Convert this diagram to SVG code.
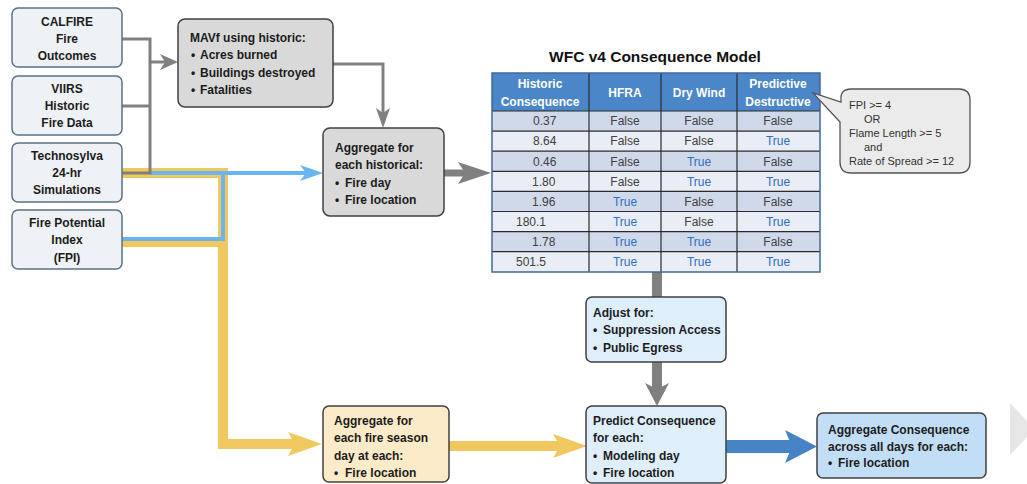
<svg xmlns="http://www.w3.org/2000/svg" width="1027" height="484" viewBox="0 0 1027 484">
<style>
.t{font-family:"Liberation Sans",Arial,sans-serif;font-size:12px;font-weight:bold;fill:#1c1c1c}
.c{text-anchor:middle}
.src{fill:#eef1f5;stroke:#5b7189;stroke-width:1.5}
.gry{fill:#d9d9d9;stroke:#404040;stroke-width:1.5}
.yel{fill:#fcebc8;stroke:#404040;stroke-width:1.5}
.lb{fill:#deeefb;stroke:#404040;stroke-width:1.5}
.mb{fill:#c2def6;stroke:#404040;stroke-width:1.5}
.cell{font-family:"Liberation Sans",Arial,sans-serif;font-size:12px;fill:#404040}
.tr{fill:#2f6fc0}
.hd{font-family:"Liberation Sans",Arial,sans-serif;font-size:12px;font-weight:bold;fill:#ffffff;text-anchor:middle}
.call{font-family:"Liberation Sans",Arial,sans-serif;font-size:11px;fill:#333333}
.r0{fill:#d0d9ea}
.r1{fill:#e9edf5}
.grid{stroke:#2b2b2b;stroke-width:1.2}
</style>

<g id="connectors" fill="none">
  <!-- yellow -->
  <path d="M122,173 H223 V444 H296" stroke="#f1c75f" stroke-width="10"/>
  <path d="M122,242 H223" stroke="#f1c75f" stroke-width="10"/>
  <polygon points="322,444 288,432 295,444 288,456" fill="#f1c75f"/>
  <path d="M449,446 H560" stroke="#f1c75f" stroke-width="10"/>
  <polygon points="587,446 553,434 560,446 553,458" fill="#f1c75f"/>
  <!-- light blue -->
  <path d="M122,239 H223 V173 H308" stroke="#6ab4f0" stroke-width="4"/>
  <path d="M150,173 H223" stroke="#6ab4f0" stroke-width="4"/>
  <polygon points="323,173 300,165 306,173 300,181" fill="#6ab4f0"/>
  <!-- grey thin -->
  <path d="M122,39 H150 V173 H122" stroke="#808080" stroke-width="3"/>
  <path d="M122,106 H150" stroke="#808080" stroke-width="3"/>
  <path d="M150,62 H166" stroke="#808080" stroke-width="3"/>
  <polygon points="178,62 160,54 165,62 160,70" fill="#808080"/>
  <path d="M333,64 H383 V113" stroke="#808080" stroke-width="3"/>
  <polygon points="383,128 376,108 383,113 390,108" fill="#808080"/>
  <!-- grey thick -->
  <path d="M444,173 H466" stroke="#808080" stroke-width="7"/>
  <polygon points="491,173 458,162 465,173 458,184" fill="#808080"/>
  <path d="M657,272 V297" stroke="#808080" stroke-width="10"/>
  <path d="M657,362 V390" stroke="#808080" stroke-width="10"/>
  <polygon points="657,406 645,383 657,389 669,383" fill="#808080"/>
  <!-- dark blue -->
  <path d="M726,446.5 H793" stroke="#4583c4" stroke-width="13"/>
  <polygon points="817,446.5 785,430 792,446.5 785,463" fill="#4583c4"/>
</g>

<g id="calfire">
  <rect class="src" x="12" y="8" width="110" height="59" rx="6"/>
  <text class="t c" x="67" y="26">CALFIRE</text>
  <text class="t c" x="67" y="43">Fire</text>
  <text class="t c" x="67" y="60">Outcomes</text>
</g>
<g id="viirs">
  <rect class="src" x="12" y="76" width="110" height="59" rx="6"/>
  <text class="t c" x="67" y="93">VIIRS</text>
  <text class="t c" x="67" y="110">Historic</text>
  <text class="t c" x="67" y="127">Fire Data</text>
</g>
<g id="technosylva">
  <rect class="src" x="12" y="143" width="110" height="59" rx="6"/>
  <text class="t c" x="67" y="160">Technosylva</text>
  <text class="t c" x="67" y="177">24-hr</text>
  <text class="t c" x="67" y="194">Simulations</text>
</g>
<g id="fpi">
  <rect class="src" x="12" y="210" width="110" height="59" rx="6"/>
  <text class="t c" x="67" y="227">Fire Potential</text>
  <text class="t c" x="67" y="244">Index</text>
  <text class="t c" x="67" y="262">(FPI)</text>
</g>

<g id="mavf">
  <rect class="gry" x="178" y="19" width="155" height="88" rx="7"/>
  <text class="t" x="190" y="42">MAVf using historic:</text>
  <text class="t" x="191" y="59">•</text><text class="t" x="200" y="59">Acres burned</text>
  <text class="t" x="191" y="77">•</text><text class="t" x="200" y="77">Buildings destroyed</text>
  <text class="t" x="191" y="94">•</text><text class="t" x="200" y="94">Fatalities</text>
</g>

<g id="agg-historical">
  <rect class="gry" x="323" y="128" width="121" height="88" rx="7"/>
  <text class="t" x="335" y="152">Aggregate for</text>
  <text class="t" x="335" y="169">each historical:</text>
  <text class="t" x="335" y="187">•</text><text class="t" x="345" y="187">Fire day</text>
  <text class="t" x="335" y="204">•</text><text class="t" x="345" y="204">Fire location</text>
</g>

<g id="model-table">
  <text x="655" y="62" text-anchor="middle" style="font-family:'Liberation Sans',Arial,sans-serif;font-size:15.5px;font-weight:bold;fill:#111">WFC v4 Consequence Model</text>
  <rect x="492" y="73" width="328" height="38" fill="#4a86c8"/>
  <rect class="r0" x="492" y="111" width="328" height="20.1"/>
  <rect class="r1" x="492" y="131.1" width="328" height="20.1"/>
  <rect class="r0" x="492" y="151.2" width="328" height="20.1"/>
  <rect class="r1" x="492" y="171.3" width="328" height="20.1"/>
  <rect class="r0" x="492" y="191.4" width="328" height="20.1"/>
  <rect class="r1" x="492" y="211.5" width="328" height="20.1"/>
  <rect class="r0" x="492" y="231.6" width="328" height="20.1"/>
  <rect class="r1" x="492" y="251.7" width="328" height="20.3"/>
  <g class="grid">
    <line x1="492" y1="111" x2="820" y2="111"/>
    <line x1="492" y1="131.1" x2="820" y2="131.1"/>
    <line x1="492" y1="151.2" x2="820" y2="151.2"/>
    <line x1="492" y1="171.3" x2="820" y2="171.3"/>
    <line x1="492" y1="191.4" x2="820" y2="191.4"/>
    <line x1="492" y1="211.5" x2="820" y2="211.5"/>
    <line x1="492" y1="231.6" x2="820" y2="231.6"/>
    <line x1="492" y1="251.7" x2="820" y2="251.7"/>
    <line x1="589" y1="73" x2="589" y2="272"/>
    <line x1="661" y1="73" x2="661" y2="272"/>
    <line x1="737" y1="73" x2="737" y2="272"/>
  </g>
  <rect x="492" y="73" width="328" height="199" fill="none" stroke="#41699c" stroke-width="1.5"/>
  <text class="hd" x="540" y="88">Historic</text>
  <text class="hd" x="540" y="106">Consequence</text>
  <text class="hd" x="625" y="97">HFRA</text>
  <text class="hd" x="699" y="97">Dry Wind</text>
  <text class="hd" x="778" y="88">Predictive</text>
  <text class="hd" x="778" y="106">Destructive</text>

  <text class="cell" x="533" y="125">0.37</text>
  <text class="cell" x="533" y="145">8.64</text>
  <text class="cell" x="533" y="165.5">0.46</text>
  <text class="cell" x="532" y="185.5">1.80</text>
  <text class="cell" x="532" y="205.5">1.96</text>
  <text class="cell" x="516" y="226">180.1</text>
  <text class="cell" x="532" y="246">1.78</text>
  <text class="cell" x="516" y="266">501.5</text>

  <g text-anchor="middle">
    <text class="cell" x="625" y="125">False</text>
    <text class="cell" x="625" y="145">False</text>
    <text class="cell" x="625" y="165.5">False</text>
    <text class="cell" x="625" y="185.5">False</text>
    <text class="cell tr" x="625" y="205.5">True</text>
    <text class="cell tr" x="625" y="226">True</text>
    <text class="cell tr" x="625" y="246">True</text>
    <text class="cell tr" x="625" y="266">True</text>

    <text class="cell" x="699" y="125">False</text>
    <text class="cell" x="699" y="145">False</text>
    <text class="cell tr" x="699" y="165.5">True</text>
    <text class="cell tr" x="699" y="185.5">True</text>
    <text class="cell" x="699" y="205.5">False</text>
    <text class="cell" x="699" y="226">False</text>
    <text class="cell tr" x="699" y="246">True</text>
    <text class="cell tr" x="699" y="266">True</text>

    <text class="cell" x="778" y="125">False</text>
    <text class="cell tr" x="778" y="145">True</text>
    <text class="cell" x="778" y="165.5">False</text>
    <text class="cell tr" x="778" y="185.5">True</text>
    <text class="cell" x="778" y="205.5">False</text>
    <text class="cell tr" x="778" y="226">True</text>
    <text class="cell" x="778" y="246">False</text>
    <text class="cell tr" x="778" y="266">True</text>
  </g>
</g>

<g id="callout">
  <path d="M851,89 H959 Q970,89 970,100 V162 Q970,173 959,173 H851 Q840,173 840,162 V122 L813,93 L841,102 V100 Q840,89 851,89 Z" fill="#ebebeb" stroke="#555555" stroke-width="1.3"/>
  <text class="call" x="849" y="109">FPI &gt;= 4</text>
  <text class="call" x="864" y="123">OR</text>
  <text class="call" x="849" y="137">Flame Length &gt;= 5</text>
  <text class="call" x="864" y="151">and</text>
  <text class="call" x="849" y="165">Rate of Spread &gt;= 12</text>
</g>

<g id="adjust">
  <rect class="lb" x="586" y="297" width="140" height="65" rx="6"/>
  <text class="t" x="593" y="317">Adjust for:</text>
  <text class="t" x="593" y="334">•</text><text class="t" x="603" y="334">Suppression Access</text>
  <text class="t" x="593" y="352">•</text><text class="t" x="603" y="352">Public Egress</text>
</g>

<g id="agg-season">
  <rect class="yel" x="323" y="406" width="126" height="76" rx="6"/>
  <text class="t" x="334" y="425">Aggregate for</text>
  <text class="t" x="334" y="442">each fire season</text>
  <text class="t" x="334" y="460">day at each:</text>
  <text class="t" x="334" y="477">•</text><text class="t" x="345" y="477">Fire location</text>
</g>

<g id="predict">
  <rect class="lb" x="586" y="406" width="140" height="77" rx="6"/>
  <text class="t" x="593" y="425">Predict Consequence</text>
  <text class="t" x="593" y="442">for each:</text>
  <text class="t" x="593" y="460">•</text><text class="t" x="603" y="460">Modeling day</text>
  <text class="t" x="593" y="477">•</text><text class="t" x="603" y="477">Fire location</text>
</g>

<g id="agg-consequence">
  <rect class="mb" x="817" y="413" width="169" height="65" rx="6"/>
  <text class="t" x="828" y="434">Aggregate Consequence</text>
  <text class="t" x="828" y="451">across all days for each:</text>
  <text class="t" x="828" y="467">•</text><text class="t" x="838" y="467">Fire location</text>
</g>

<polygon points="1010,403 1027,421 1027,437 1010,455" fill="#e6e6e6"/>
</svg>
